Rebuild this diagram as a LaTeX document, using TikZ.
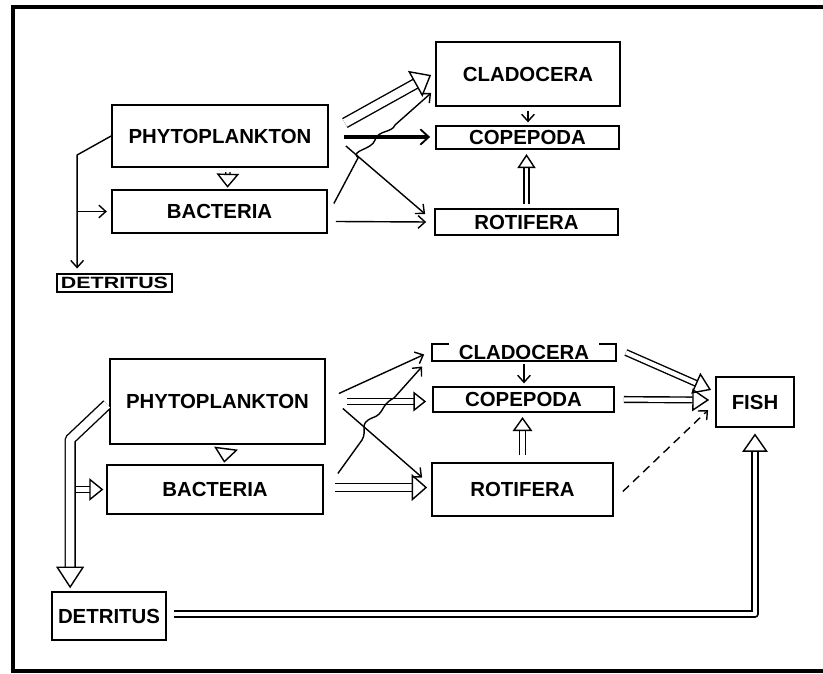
\documentclass[tikz,border=0pt]{standalone}
\usepackage{fontspec}
\setsansfont{Liberation Sans}
\usepackage{graphicx}
\usetikzlibrary{calc,arrows.meta}

\begin{document}
\begin{tikzpicture}[
      x=0.025cm, y=-0.025cm,
      box/.style={draw, line width=1.2pt, inner sep=0pt, align=center,
                  font=\sffamily\bfseries\fontsize{14.5}{17}\selectfont},
      flow/.style={line width=1pt, -{Straight Barb[length=5pt, width=9pt]}},
      dark/.style={line width=3pt, -{Straight Barb[length=6pt, width=11pt, line width=1.3pt]}},
      hollow/.style n args={3}{double, line width=1pt, double distance=#1, line join=round,
                  -{Triangle[open, line width=1pt, length=#2, width=#3]}},
    ]
      \useasboundingbox (0,0) rectangle (823,674);
      \draw[line width=2.2pt] (823,7) -- (13,7) -- (13,671) -- (823,671);

      \node[box, minimum width=5.4cm,   minimum height=1.55cm]  (phy1) at (220,136)   {PHYTOPLANKTON};
      \node[box, minimum width=5.375cm, minimum height=1.075cm] (bac1) at (219.5,211.5) {BACTERIA};
      \node[box, line width=1.8pt, minimum width=2.875cm, minimum height=0.45cm] (det1) at (114.5,283)
        {\scalebox{1.05}[0.8]{DETRITUS}};
      \node[box, minimum width=4.6cm,   minimum height=1.6cm]   (cla1) at (528,74)    {CLADOCERA};
      \node[box, minimum width=4.575cm, minimum height=0.575cm] (cop1) at (527.5,137.5) {COPEPODA};
      \node[box, minimum width=4.575cm, minimum height=0.65cm]  (rot1) at (526.5,222) {ROTIFERA};

      \node[box, minimum width=5.375cm, minimum height=2.125cm] (phy2) at (217.5,401.5) {PHYTOPLANKTON};
      \node[box, minimum width=5.4cm,   minimum height=1.225cm] (bac2) at (215,489.5)  {BACTERIA};
      \node[box, minimum width=2.85cm,  minimum height=1.2cm]   (det2) at (109,616)    {DETRITUS};
      \node[box, draw=none, minimum width=4.55cm, minimum height=0.375cm] (cla2) at (524,352.5) {CLADOCERA};
      \node[box, minimum width=4.525cm, minimum height=0.625cm] (cop2) at (523.5,399.5) {COPEPODA};
      \node[box, minimum width=4.525cm, minimum height=1.325cm] (rot2) at (522.5,489.5) {ROTIFERA};
      \node[box, minimum width=1.95cm,  minimum height=1.25cm]  (fish) at (755,402)    {FISH};
      \draw[line width=1.2pt] ($(cla2.north west)+(17,0)$) -- (cla2.north west) -- (cla2.south west)
        -- (cla2.south east) -- (cla2.north east) -- ++(-17,0);

      % upper web
      \coordinate (j1) at ($(phy1.west)+(-34,19)$);
      \draw[flow, shorten >=3pt] (phy1.west) -- (j1) -- (j1 |- det1.north);
      \draw[flow, shorten >=3pt] (j1 |- bac1.west) -- (bac1.west);
      \draw[hollow={2pt}{10pt}{16pt}, shorten <=3pt, shorten >=1pt]
        ($(phy1.south)+(8,0)$) -- ($(bac1.north)+(8,0)$);
      \draw[hollow={6pt}{13pt}{21pt}] ($(phy1.east)+(16,-13)$) -- ($(cla1.west)+(-4,1)$);
      \draw[dark] ($(phy1.east)+(15,1)$) -- ($(cop1.west)+(-5,-0.5)$);
      \draw[flow] ($(phy1.east)+(17,10)$) -- ($(rot1.west)+(-9,-8)$);
      \draw[flow] ($(bac1.east)+(8,10)$) -- ($(rot1.west)+(-8,0)$);
      \draw[flow] ($(bac1.east)+(6,-8)$) -- (358,158) .. controls (350,150) and (372,150) .. (375,140)
        .. controls (378,130) and (392,133) .. (395,125) -- ($(cla1.west)+(-4,19)$);
      \draw[flow, shorten <=3pt, shorten >=2pt] (cla1.south) -- (cla1.south |- cop1.north);
      \draw[hollow={2.5pt}{10pt}{13pt}, shorten <=3pt, shorten >=3pt] (rot1.north) -- (rot1.north |- cop1.south);

      % lower web
      \coordinate (j2) at ($(phy2.west)+(-39,38)$);
      \draw[hollow={6pt}{15.5pt}{20pt}, shorten >=2pt] ($(phy2.west)+(-2,3)$) -- (j2) -- (j2 |- det2.north);
      \draw[hollow={3pt}{10pt}{16pt}, shorten >=2pt] ($(j2 |- bac2.west)+(6,0)$) -- (bac2.west);
      \draw[hollow={2pt}{10.5pt}{17pt}, shorten <=3pt, shorten >=1pt]
        ($(phy2.south)+(9,0)$) -- ($(bac2.north)+(9,0)$);
      \draw[flow] ($(phy2.east)+(13,-8)$) -- ($(cla2.west)+(-8,2)$);
      \draw[hollow={3pt}{9pt}{14pt}] ($(phy2.east)+(21,0)$) -- ($(cop2.west)+(-6,2)$);
      \draw[flow] ($(phy2.east)+(17,7)$) -- ($(rot2.west)+(-9,-12)$);
      \draw[hollow={4.5pt}{11pt}{19pt}] ($(bac2.east)+(11,-2)$) -- ($(rot2.west)+(-4,-2)$);
      \draw[flow] ($(bac2.east)+(14,-16)$) -- (362,440) .. controls (368,430) and (358,424) .. (372,418)
        .. controls (385,414) and (380,405) .. (394,398) -- ($(cla2.west)+(-10,14)$);
      \draw[flow, shorten <=2pt, shorten >=2pt] (cla2.south) -- (cla2.south |- cop2.north);
      \draw[hollow={3pt}{10pt}{14pt}, shorten <=5pt, shorten >=3pt] (rot2.north) -- (rot2.north |- cop2.south);
      \draw[hollow={3pt}{12pt}{16pt}] ($(cla2.east)+(10,0)$) -- ($(fish.west)+(-4,-12)$);
      \draw[hollow={3pt}{12pt}{16pt}] ($(cop2.east)+(9,0)$) -- ($(fish.west)+(-6,-2)$);
      \draw[flow, dashed, dash pattern=on 6pt off 4pt] ($(rot2.east)+(9,2)$) -- ($(fish.west)+(-7,8)$);
      \draw[hollow={3pt}{13pt}{18pt}, shorten >=4pt] ($(det2.east)+(7,-2)$) -| (fish.south);
    \end{tikzpicture}
\end{document}
